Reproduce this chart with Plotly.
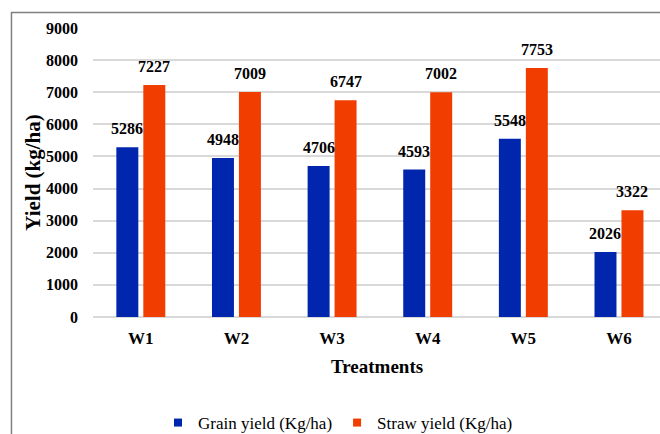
import plotly.graph_objects as go

treatments = ["W1", "W2", "W3", "W4", "W5", "W6"]
grain_yield = [5286, 4948, 4706, 4593, 5548, 2026]
straw_yield = [7227, 7009, 6747, 7002, 7753, 3322]
y_ticks = [0, 1000, 2000, 3000, 4000, 5000, 6000, 7000, 8000, 9000]

BLUE = "#0026AE"
ORANGE = "#F23D00"
FONT = "Liberation Serif"

fig = go.Figure()
fig.add_trace(go.Bar(x=list(range(len(treatments))), y=grain_yield, marker=dict(color=BLUE, line=dict(width=0)),
                     name="Grain yield (Kg/ha)", showlegend=False))
fig.add_trace(go.Bar(x=list(range(len(treatments))), y=straw_yield, marker=dict(color=ORANGE, line=dict(width=0)),
                     name="Straw yield (Kg/ha)", showlegend=False))
# legend entries
fig.add_trace(go.Scatter(x=[None], y=[None], mode="markers", name="Grain yield (Kg/ha)",
                         marker=dict(symbol="square", size=8, color=BLUE)))
fig.add_trace(go.Scatter(x=[None], y=[None], mode="markers", name="Straw yield (Kg/ha)",
                         marker=dict(symbol="square", size=8, color=ORANGE)))

L, T, B = 92.6, 27.5, 117
plot_w = 660 - L
plot_h = 434 - T - B
cat_w = 95.7
span = plot_w / cat_w

annotations = []
for series, off in ((grain_yield, -0.141), (straw_yield, 0.141)):
    for i, v in enumerate(series):
        annotations.append(dict(x=i + off, y=v, xref="x", yref="y", text="<b>%d</b>" % v, showarrow=False,
                                yanchor="bottom", yshift=8, font=dict(family=FONT, size=16, color="black")))

annotations.append(dict(x=0.5, y=(317 - 367) / plot_h, xref="paper", yref="paper", text="<b>Treatments</b>",
                        showarrow=False, yanchor="middle", xanchor="center",
                        font=dict(family=FONT, size=19, color="black")))
annotations.append(dict(x=(33 - L) / plot_w, y=(317 - 172) / plot_h, xref="paper", yref="paper",
                        text="<b>Yield (kg/ha)</b>", textangle=-90, showarrow=False,
                        xanchor="center", yanchor="middle", font=dict(family=FONT, size=21, color="black")))

fig.update_layout(
    width=660, height=434,
    margin=dict(l=L, r=0, t=T, b=B, pad=0, autoexpand=False),
    paper_bgcolor="white", plot_bgcolor="white",
    barmode="group", bargap=0.436, bargroupgap=0.185,
    font=dict(family=FONT, size=16, color="black"),
    xaxis=dict(range=[-0.5, -0.5 + span], showgrid=False, showline=False, zeroline=False, ticks="",
               tickfont=dict(family=FONT, size=17, color="black"), ticklabelstandoff=9,
               tickvals=list(range(len(treatments))), ticktext=["<b>%s</b>" % t for t in treatments]),
    yaxis=dict(range=[0, 9000], tickvals=y_ticks, ticktext=["<b>%d</b>" % t for t in y_ticks],
               showgrid=True, gridcolor="#D9D9D9", gridwidth=1.5,
               zeroline=True, zerolinecolor="#D9D9D9", zerolinewidth=1.5, showline=False, ticks="",
               tickfont=dict(family=FONT, size=16, color="black"), ticklabelstandoff=14),
    legend=dict(orientation="h", xref="container", yref="container", x=158 / 660, y=1 - 423 / 434,
                xanchor="left", yanchor="middle",
                font=dict(family=FONT, size=17, color="black"), bgcolor="rgba(0,0,0,0)"),
    annotations=annotations,
    shapes=[dict(type="rect", xref="paper", yref="paper", x0=(11 - L) / plot_w, x1=1.2,
                 y0=-1.0, y1=(317 - 12) / plot_h, line=dict(color="#808080", width=1.5), layer="below")],
    showlegend=True,
)
fig.write_html("out.html", config={"displayModeBar": False},
               post_script="document.body.style.margin='0';document.body.style.overflow='hidden';")
